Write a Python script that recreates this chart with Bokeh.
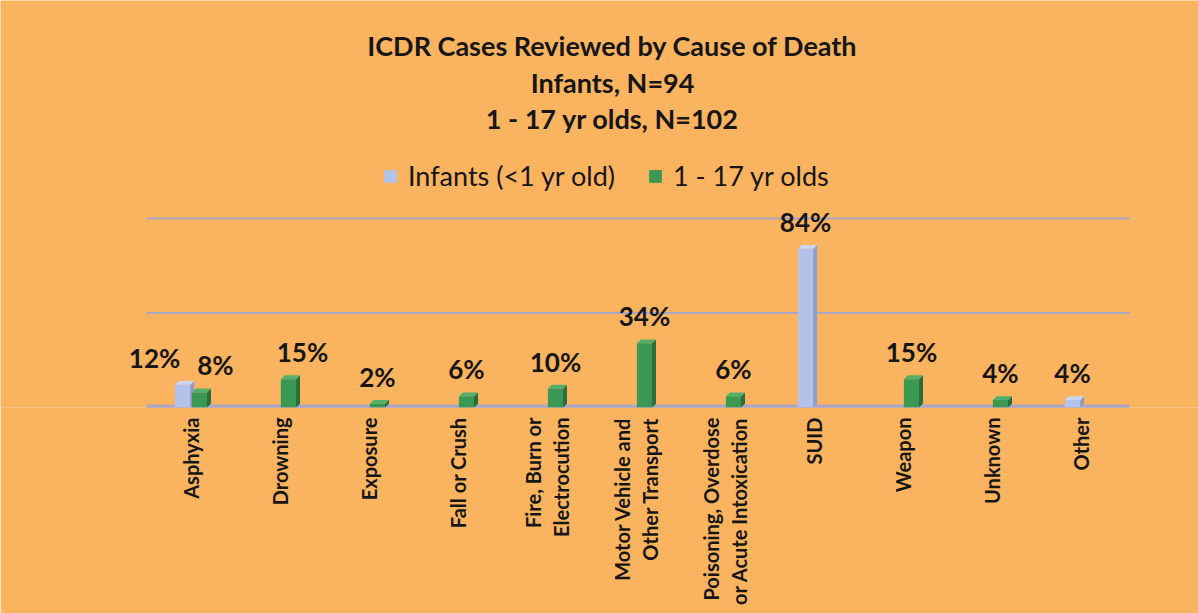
import math
from bokeh.plotting import figure
from bokeh.models import ColumnDataSource, FixedTicker, Range1d, Label, Legend, LegendItem
from bokeh.core.properties import value
from bokeh.embed import file_html
from bokeh.resources import INLINE

# ---------------- data ----------------
categories = ["Asphyxia", "Drowning", "Exposure", "Fall or Crush",
              "Fire, Burn or\nElectrocution", "Motor Vehicle and\nOther Transport",
              "Poisoning, Overdose\nor Acute Intoxication", "SUID", "Weapon",
              "Unknown", "Other"]
infants = [12, 0, 0, 0, 0, 0, 0, 84, 0, 0, 4]
older = [8, 15, 2, 6, 10, 34, 6, 0, 15, 4, 0]
series_names = ["Infants (<1 yr old)", "1 - 17 yr olds"]
title_lines = ["ICDR Cases Reviewed by Cause of Death", "Infants, N=94", "1 - 17 yr olds, N=102"]
grid_ticks = [0, 50, 100]

# ---------------- layout (pixels) ----------------
W, H = 1198, 613
BASE_Y = 407          # pixel row of the value 0
TOP_GRID_Y = 218      # pixel row of the top gridline
PLOT_LEFT = 146       # pixel column where the first category starts
CAT_PX = 89           # pixel width of one category
px_per_unit = (BASE_Y - TOP_GRID_Y) / grid_ticks[-1]
x_start = -PLOT_LEFT / CAT_PX
x_end = (W - PLOT_LEFT) / CAT_PX
y_end = BASE_Y / px_per_unit

# ---------------- style ----------------
BG = "#FAB35E"
FONT = "Lato"
TXT = "#161616"
GRID = "#A9A6C6"
series_style = [
    dict(off=-0.095, front="#B2C2E8", top="#CBD6F2", side="#8E9DCB"),
    dict(off=0.095, front="#3A9853", top="#52B06A", side="#2A6E3E"),
]
BAR_W = 0.17
DX = 0.045
DY = 2.0
label_nudge = {(0, 0): -28, (0, 1): 16, (1, 1): 14}

p = figure(width=W, height=H, output_backend="svg", toolbar_location=None,
           x_range=Range1d(x_start, x_end), y_range=Range1d(0, y_end),
           min_border_left=0, min_border_right=0, min_border_top=0,
           min_border_bottom=H - BASE_Y)
p.title.visible = False
p.background_fill_color = BG
p.border_fill_color = BG
p.outline_line_color = None

p.yaxis.visible = False
p.xgrid.visible = False
p.ygrid.visible = False

n = len(categories)
# gridlines and floor, drawn across the category span only
p.segment(x0=[0] * len(grid_ticks), x1=[n + DX] * len(grid_ticks), y0=grid_ticks, y1=grid_ticks,
          line_color=GRID, line_width=2)
p.segment(x0=[0], x1=[n + DX], y0=[0], y1=[0], line_color=GRID, line_width=6)

ax = p.xaxis[0]
ax.ticker = FixedTicker(ticks=[i + 0.5 for i in range(n)])
ax.major_label_overrides = {i + 0.5: c for i, c in enumerate(categories)}
ax.major_label_orientation = math.pi / 2
ax.major_label_text_font = FONT
ax.major_label_text_font_style = "bold"
ax.major_label_text_font_size = "20px"
ax.major_label_text_color = TXT
ax.major_label_standoff = 10
ax.major_tick_out = 0
ax.major_tick_in = 0
ax.major_tick_line_color = None
ax.minor_tick_line_color = None
ax.axis_line_color = None

front_renderers = []
for s_idx, vals in enumerate([infants, older]):
    st = series_style[s_idx]
    fx, fy, tx, ty, sx, sy = [], [], [], [], [], []
    lx, ly, lt, lo = [], [], [], []
    for i, v in enumerate(vals):
        if v <= 0:
            continue
        c = i + 0.5 + st["off"]
        l, r = c - BAR_W / 2, c + BAR_W / 2
        fx.append([l, r, r, l]); fy.append([0, 0, v, v])
        tx.append([l, l + DX, r + DX, r]); ty.append([v, v + DY, v + DY, v])
        sx.append([r, r + DX, r + DX, r]); sy.append([0, DY, v + DY, v])
        lx.append(c); ly.append(v); lt.append(f"{v}%"); lo.append(label_nudge.get((i, s_idx), 0))
    p.patches(xs=sx, ys=sy, fill_color=st["side"], line_color=None)
    p.patches(xs=tx, ys=ty, fill_color=st["top"], line_color=None)
    fr = p.patches(xs=fx, ys=fy, fill_color=st["front"], line_color=None)
    front_renderers.append(fr)
    src = ColumnDataSource(dict(x=lx, y=ly, t=lt, o=lo))
    p.text(x="x", y="y", text="t", x_offset="o", y_offset=-27, source=src,
           text_align="center", text_baseline="alphabetic",
           text_font=value(FONT), text_font_style="bold", text_font_size="26px",
           text_color=TXT)

title_y = [362, 325, 289]
for line, y in zip(title_lines, title_y):
    p.add_layout(Label(x=612, y=y, x_units="screen", y_units="screen", text=line,
                       text_align="center", text_baseline="alphabetic",
                       text_font=FONT, text_font_style="bold", text_font_size="27px",
                       text_color=TXT))

legend = Legend(items=[LegendItem(label=series_names[k], renderers=[front_renderers[k]]) for k in range(2)],
                location=(382, 215), orientation="horizontal",
                glyph_width=16, glyph_height=16, label_standoff=10, spacing=32,
                padding=0, margin=0, background_fill_alpha=0, border_line_alpha=0,
                label_text_font=FONT, label_text_font_size="27px", label_text_color=TXT)
p.add_layout(legend)

open("out.html", "w").write(file_html(p, INLINE))
